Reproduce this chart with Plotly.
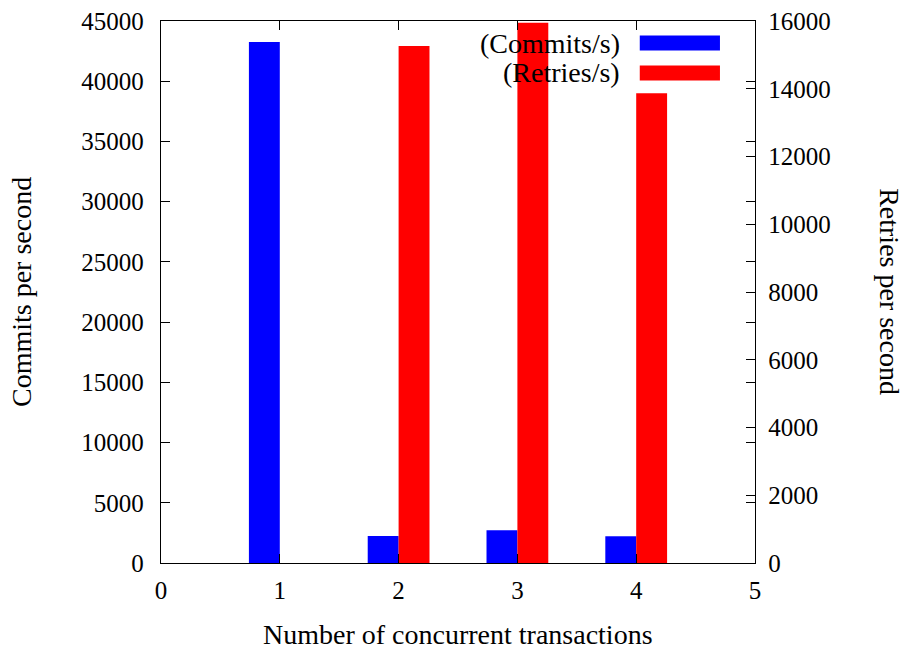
import plotly.graph_objects as go

# Data
transactions = [1, 2, 3, 4]
commits_per_s = [43250, 2240, 2710, 2220]
retries_per_s = [0, 15260, 15950, 13870]

x_ticks = [0, 1, 2, 3, 4, 5]

FONT = "Liberation Serif"
FS = 25
FS_TXT = 28

fig = go.Figure()
fig.add_trace(go.Bar(
    x=transactions, y=commits_per_s, name="(Commits/s)",
    marker=dict(color="#0000ff", line=dict(width=0)),
    width=0.26, offset=-0.26, yaxis="y", showlegend=False,
))
fig.add_trace(go.Bar(
    x=transactions, y=retries_per_s, name="(Retries/s)",
    marker=dict(color="#ff0000", line=dict(width=0)),
    width=0.26, offset=0.0, yaxis="y2", showlegend=False,
))

axis_common = dict(
    showline=True, linecolor="black", linewidth=1.3,
    ticks="inside", ticklen=9, tickcolor="black", tickwidth=1.3,
    showgrid=False, zeroline=False, automargin=False,
    tickfont=dict(family=FONT, size=FS, color="black"),
)

fig.update_layout(
    width=909, height=651,
    margin=dict(l=161, r=154, t=21, b=88, autoexpand=False),
    paper_bgcolor="white", plot_bgcolor="white",
    barmode="overlay",
    font=dict(family=FONT, size=FS, color="black"),
    xaxis=dict(range=[0, 5], tickvals=x_ticks, mirror="ticks", ticklabelstandoff=5,
               **axis_common),
    yaxis=dict(range=[0, 45000], dtick=5000, tickformat="d", mirror="ticks",
               ticklabelstandoff=11, **axis_common),
    yaxis2=dict(range=[0, 16000], dtick=2000, tickformat="d", overlaying="y", side="right",
                ticklabelstandoff=7, **axis_common),
)

# Axis titles
fig.add_annotation(text="Number of concurrent transactions", xref="paper", yref="paper",
                   x=0.5, y=-0.131, showarrow=False, font=dict(family=FONT, size=FS_TXT),
                   xanchor="center", yanchor="middle")
fig.add_annotation(text="Commits per second", xref="paper", yref="paper",
                   x=-0.2357, y=0.5, showarrow=False, textangle=-90,
                   font=dict(family=FONT, size=FS_TXT), xanchor="center", yanchor="middle")
fig.add_annotation(text="Retries per second", xref="paper", yref="paper",
                   x=1.227, y=0.5, showarrow=False, textangle=90,
                   font=dict(family=FONT, size=FS_TXT), xanchor="center", yanchor="middle")

# Custom legend (text left of sample, gnuplot style)
legend_items = [("(Commits/s)", "#0000ff", 0.9594), ("(Retries/s)", "#ff0000", 0.9041)]
for label, color, yy in legend_items:
    fig.add_annotation(text=label, xref="paper", yref="paper", x=0.776, y=yy,
                       showarrow=False, xanchor="right", yanchor="middle",
                       font=dict(family=FONT, size=FS_TXT))
    fig.add_shape(type="rect", xref="paper", yref="paper",
                  x0=0.806, x1=0.941, y0=yy - 0.0138, y1=yy + 0.0138,
                  fillcolor=color, line=dict(width=0))

fig.write_html("out.html", config={"displayModeBar": False},
               post_script="document.body.style.margin='0';document.body.style.padding='0';")
